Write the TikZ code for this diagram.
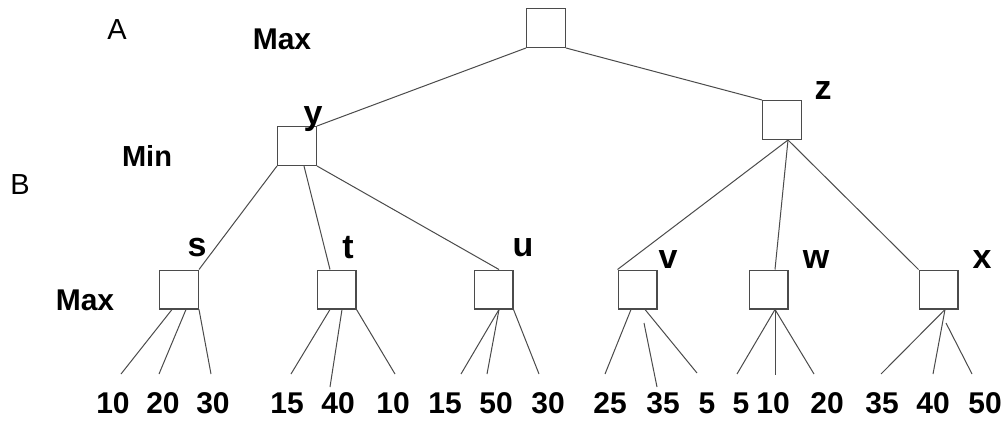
\documentclass[tikz,border=0pt]{standalone}
\usepackage{fontspec}
\setmainfont{Liberation Sans}
\definecolor{linec}{RGB}{75,75,75}
\tikzset{
  box/.style={draw=linec, line width=1.1pt, minimum size=38.9pt, inner sep=0pt},
  edge/.style={draw=linec, line width=1pt},
  num/.style={font=\bfseries\fontsize{30}{30}\selectfont, inner sep=0pt},
  lab/.style={font=\bfseries\fontsize{34}{34}\selectfont, inner sep=0pt},
  lvl/.style={font=\bfseries\fontsize{30}{30}\selectfont, inner sep=0pt},
  plain/.style={font=\fontsize{29}{29}\selectfont, inner sep=0pt}
}
\begin{document}
\begin{tikzpicture}[x=1pt,y=-1pt]
\useasboundingbox[fill=white] (0,0) rectangle (1008,422);
% boxes
\node[box] (nroot) at (546,28) {};
\node[box] (ny) at (297,146) {};
\node[box] (nz) at (782,120) {};
\node[box] (ns) at (179,289.5) {};
\node[box] (nt) at (336.5,289.5) {};
\node[box] (nu) at (493.5,289.5) {};
\node[box] (nv) at (637.5,289.5) {};
\node[box] (nw) at (768.5,289.5) {};
\node[box] (nx) at (938.5,289.5) {};
% level and side labels
\node[plain] (lA) at (117,30) {A};
\node[plain] (lB) at (20,185) {B};
\node[lvl] (lmax1) at (282,39) {Max};
\node[lvl, font=\bfseries\fontsize{29}{29}\selectfont] (lmin) at (147,156) {Min};
\node[lvl] (lmax2) at (85,300) {Max};
% node letters
\node[lab] (ly) at (313,119) {y};
\node[lab] (lz) at (823,91) {z};
\node[lab] (ls) at (197,248) {s};
\node[lab] (lt) at (348,248) {t};
\node[lab] (lu) at (523,248) {u};
\node[lab] (lv) at (668,260) {v};
\node[lab] (lw) at (816,260) {w};
\node[lab] (lx) at (982,260) {x};
% tree edges
\draw[edge] (nroot.south west) -- (ny.north east);
\draw[edge] (nroot.south east) -- (nz.north west);
\draw[edge] ([xshift=6pt]nz.south) -- (nv.north west);
\draw[edge] ([xshift=6pt]nz.south) -- ([xshift=6.5pt]nw.north);
\draw[edge] ([xshift=6pt]nz.south) -- (nx.north west);
\draw[edge] (ny.south west) -- (ns.north east);
\draw[edge] ([xshift=7pt]ny.south) -- ([xshift=-6.5pt]nt.north);
\draw[edge] (ny.south east) -- ([xshift=5.5pt]nu.north);
% leaf line ends
\coordinate (s1) at (121,374); \coordinate (s2) at (159,374); \coordinate (s3) at (211,374);
\coordinate (t1) at (291,374); \coordinate (t2) at (330,387); \coordinate (t3) at (395,374);
\coordinate (u1) at (461,374); \coordinate (u2) at (487,374); \coordinate (u3) at (539,374);
\coordinate (v1) at (605,374); \coordinate (v2a) at (644,323); \coordinate (v2) at (657,387); \coordinate (v3) at (697,373);
\coordinate (w1) at (737,374); \coordinate (w2) at (775,375); \coordinate (w3) at (814,374);
\coordinate (x1) at (881,374); \coordinate (x2) at (933,374); \coordinate (x3a) at (946,323); \coordinate (x3) at (972,374);
\draw[edge] ([xshift=-7pt]ns.south) -- (s1);
\draw[edge] ([xshift=7pt]ns.south) -- (s2);
\draw[edge] (ns.south east) -- (s3);
\draw[edge] ([xshift=-6.5pt]nt.south) -- (t1);
\draw[edge] ([xshift=5.5pt]nt.south) -- (t2);
\draw[edge] (nt.south east) -- (t3);
\draw[edge] ([xshift=5.5pt]nu.south) -- (u1);
\draw[edge] ([xshift=5.5pt]nu.south) -- (u2);
\draw[edge] (nu.south east) -- (u3);
\draw[edge] ([xshift=-6.5pt]nv.south) -- (v1);
\draw[edge] (v2a) -- (v2);
\draw[edge] ([xshift=7.5pt]nv.south) -- (v3);
\draw[edge] ([xshift=6.5pt]nw.south) -- (w1);
\draw[edge] ([xshift=6.5pt]nw.south) -- (w2);
\draw[edge] ([xshift=6.5pt]nw.south) -- (w3);
\draw[edge] ([xshift=6.5pt]nx.south) -- (x1);
\draw[edge] ([xshift=6.5pt]nx.south) -- (x2);
\draw[edge] (x3a) -- (x3);
% leaf values
\node[num] (a1) at (113,403) {10};
\node[num] (a2) at (163,403) {20};
\node[num] (a3) at (213,403) {30};
\node[num] (a4) at (287,403) {15};
\node[num] (a5) at (338,403) {40};
\node[num] (a6) at (393,403) {10};
\node[num] (a7) at (445,403) {15};
\node[num] (a8) at (496,403) {50};
\node[num] (a9) at (548,403) {30};
\node[num] (a10) at (610,403) {25};
\node[num] (a11) at (663,403) {35};
\node[num] (a12) at (707,403) {5};
\node[num] (a13) at (741,403) {5};
\node[num] (a14) at (773,403) {10};
\node[num] (a15) at (827,403) {20};
\node[num] (a16) at (882,403) {35};
\node[num] (a17) at (933,403) {40};
\node[num] (a18) at (985,403) {50};
\end{tikzpicture}
\end{document}
